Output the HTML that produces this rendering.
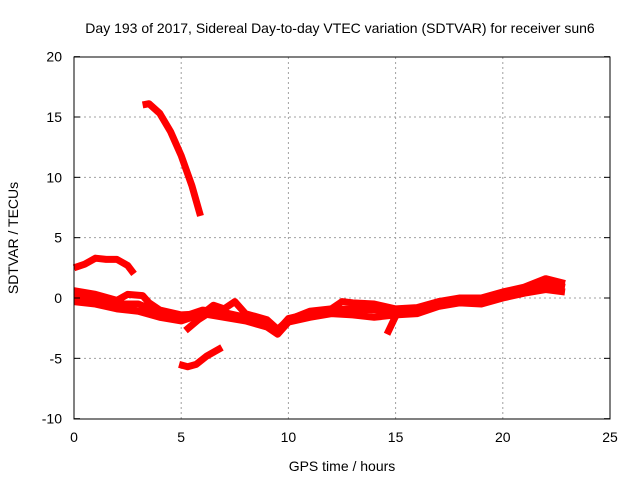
<!DOCTYPE html>
<html><head><meta charset="utf-8"><style>
body{margin:0;background:#fff;}
svg{display:block;font-family:"Liberation Sans",sans-serif;font-size:14px;}
</style></head><body>
<svg id="c" width="640" height="480">
<text x="340" y="33" text-anchor="middle">Day 193 of 2017, Sidereal Day-to-day VTEC variation (SDTVAR) for receiver sun6</text>
<text x="342" y="471" text-anchor="middle">GPS time / hours</text>
<text transform="translate(18,238) rotate(-90)" text-anchor="middle">SDTVAR / TECUs</text>
<g id="grid"></g><g id="series"></g><g id="ticks"></g>
<rect x="74" y="57" width="536" height="362" fill="none" stroke="#000"/>
</svg>
<script>
const xTicks=[0,5,10,15,20,25];
const yTicks=[-10,-5,0,5,10,15,20];
const arcHigh=[[3.2,16],[3.5,16.1],[4,15.3],[4.5,13.8],[5,11.8],[5.5,9.3],[5.9,6.8]];
const arcEarly=[[0,2.5],[0.5,2.8],[1,3.3],[1.5,3.2],[2,3.2],[2.5,2.7],[2.8,2]];
const arcLow=[[4.9,-5.5],[5.3,-5.7],[5.7,-5.5],[6.2,-4.8],[6.9,-4.1]];
const band1=[[0,0.6],[1,0.3],[2,-0.2],[2.5,0.3],[3.2,0.2],[3.5,-0.4],[4,-1],[5,-1.4],[6,-1.3],[6.5,-0.6],[7,-0.9],[7.5,-0.3],[8,-1.3],[9,-1.8],[9.5,-2.6],[10,-1.8],[11,-1.1],[12,-0.9],[12.5,-0.3],[13,-0.4],[14,-0.5],[15,-0.9],[16,-0.8],[17,-0.3],[18,0],[19,0],[20,0.5],[21,0.9],[22,1.6],[22.9,1.2]];
const band2=[[0,-0.3],[1,-0.5],[2,-0.9],[3,-1.1],[4,-1.6],[5,-1.9],[6,-1.3],[7,-1.6],[8,-1.9],[9,-2.4],[9.5,-3],[10,-2],[11,-1.6],[12,-1.3],[13,-1.4],[14,-1.6],[15,-1.4],[16,-1.3],[17,-0.7],[18,-0.4],[19,-0.5],[20,0],[21,0.4],[22,0.7],[22.9,0.5]];
const band3=[[0,0.1],[1,-0.1],[2,-0.5],[3,-0.5],[4,-1.2],[5,-1.6],[6,-1],[7,-1.2],[8,-1.6],[9,-2],[9.5,-2.7],[10,-1.7],[11,-1.3],[12,-1],[13,-0.9],[14,-1],[15,-1.1],[16,-1],[17,-0.5],[18,-0.1],[19,-0.2],[20,0.3],[21,0.7],[22,1.2],[22.9,0.9]];
const bit1=[[5.2,-2.7],[5.8,-1.8],[6.5,-1]];
const bit2=[[14.6,-3],[15,-1.5],[15.5,-0.8]];
const X=v=>74+v*536/25, Y=v=>298-v*362/30;
const NS="http://www.w3.org/2000/svg";
const grid=document.getElementById('grid'),ticks=document.getElementById('ticks'),ser=document.getElementById('series');
function mk(tag,a,p){const e=document.createElementNS(NS,tag);for(const k in a)e.setAttribute(k,a[k]);p.appendChild(e);return e;}
xTicks.forEach(t=>{const x=X(t);
 if(t>0&&t<25){const g=mk('line',{x1:x,x2:x,y1:57,y2:419,stroke:'#a0a0a0','stroke-dasharray':'2,3'},grid);
 
 }
 const tl=mk('text',{x:x,y:442,'text-anchor':'middle'},ticks);tl.textContent=t;
 
 });
yTicks.forEach(t=>{const y=Y(t);
 if(t>-10&&t<20){const g=mk('line',{x1:74,x2:610,y1:y,y2:y,stroke:'#a0a0a0','stroke-dasharray':'2,3'},grid);
 
 }
 mk('line',{x1:74,x2:80,y1:y,y2:y,stroke:'#000'},ticks);mk('line',{x1:604,x2:610,y1:y,y2:y,stroke:'#000'},ticks);
 const tl=mk('text',{x:62,y:y+5,'text-anchor':'end'},ticks);tl.textContent=t;
 
 });
[arcHigh,arcEarly,arcLow,band1,band2,band3,bit1,bit2].forEach(s=>{
 const p=mk('polyline',{points:s.map(d=>X(d[0])+','+Y(d[1])).join(' '),fill:'none',stroke:'#ff0000','stroke-width':7,'stroke-linejoin':'round'},ser);
 
 });
</script>
</body></html>
